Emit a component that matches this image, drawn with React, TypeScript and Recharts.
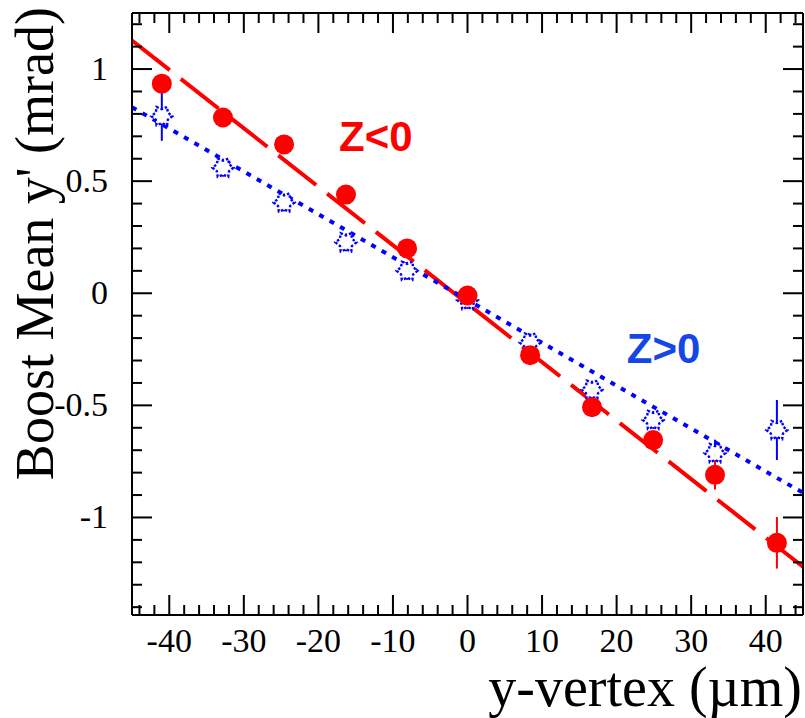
import React from "react";
import {
  ComposedChart,
  Line,
  Scatter,
  ErrorBar,
  XAxis,
  YAxis,
  ReferenceDot
} from "recharts";

// Measured points: y-vertex bin centres (µm)
const vertexX = [-41, -32.8, -24.6, -16.3, -8.1, 0, 8.4, 16.7, 24.9, 33.2, 41.5];

// Z<0 sample: boost mean y' (mrad) and errors
const zNegMean = [0.935, 0.784, 0.664, 0.44, 0.2, -0.01, -0.276, -0.508, -0.655, -0.81, -1.113];
const zNegErr = [0.04, 0.03, 0.03, 0.03, 0.03, 0.03, 0.03, 0.03, 0.04, 0.065, 0.115];

// Z>0 sample
const zPosMean = [0.79, 0.56, 0.405, 0.227, 0.1, -0.03, -0.22, -0.43, -0.565, -0.713, -0.61];
const zPosErr = [0.11, 0.04, 0.04, 0.04, 0.04, 0.04, 0.04, 0.04, 0.04, 0.06, 0.134];

// Straight-line fits, evaluated at the plot edges
const fitX = [-45, 45];
const zNegFit = [1.127, -1.22];
const zPosFit = [0.83, -0.89];

// Axis ticks (major + minor)
const xTicks = [-44, -42, -40, -38, -36, -34, -32, -30, -28, -26, -24, -22, -20, -18, -16, -14, -12, -10, -8, -6, -4, -2,
  0, 2, 4, 6, 8, 10, 12, 14, 16, 18, 20, 22, 24, 26, 28, 30, 32, 34, 36, 38, 40, 42, 44];
const yTicks = [-1.4, -1.3, -1.2, -1.1, -1, -0.9, -0.8, -0.7, -0.6, -0.5, -0.4, -0.3, -0.2, -0.1,
  0, 0.1, 0.2, 0.3, 0.4, 0.5, 0.6, 0.7, 0.8, 0.9, 1, 1.1, 1.2];

const RED = "#ff0000";
const BLUE = "#0000ff";
const SERIF = "'Liberation Serif', 'Times New Roman', serif";
const SANS = "'Liberation Sans', Arial, sans-serif";

const zNegData = vertexX.map((x, i) => ({ x, y: zNegMean[i], err: zNegErr[i] }));
const zPosData = vertexX.map((x, i) => ({ x, y: zPosMean[i], err: zPosErr[i] }));
const zNegFitData = fitX.map((x, i) => ({ x, y: zNegFit[i] }));
const zPosFitData = fitX.map((x, i) => ({ x, y: zPosFit[i] }));

const isMajorX = (v: number) => v % 10 === 0;
const isMajorY = (v: number) => Math.abs(v * 2 - Math.round(v * 2)) < 1e-6;

// inward ticks, like a ROOT frame
const BottomTick = (props: any) => {
  const { x, y, payload } = props;
  const major = isMajorX(payload.value);
  return (
    <g>
      <line x1={x} y1={y} x2={x} y2={y - (major ? 20 : 10)} stroke="#000" strokeWidth={2} />
      {major && (
        <text x={x} y={y + 37} textAnchor="middle" fontFamily={SERIF} fontSize={34} fill="#000">
          {payload.value}
        </text>
      )}
    </g>
  );
};

const TopTick = (props: any) => {
  const { x, y, payload } = props;
  const major = isMajorX(payload.value);
  return <line x1={x} y1={y} x2={x} y2={y + (major ? 20 : 10)} stroke="#000" strokeWidth={2} />;
};

const LeftTick = (props: any) => {
  const { x, y, payload } = props;
  const major = isMajorY(payload.value);
  return (
    <g>
      <line x1={x} y1={y} x2={x + (major ? 20 : 10)} y2={y} stroke="#000" strokeWidth={2} />
      {major && (
        <text x={x - 24} y={y + 11} textAnchor="end" fontFamily={SERIF} fontSize={34} fill="#000">
          {payload.value}
        </text>
      )}
    </g>
  );
};

const RightTick = (props: any) => {
  const { x, y, payload } = props;
  const major = isMajorY(payload.value);
  return <line x1={x} y1={y} x2={x - (major ? 20 : 10)} y2={y} stroke="#000" strokeWidth={2} />;
};

const FullCircle = (props: any) => {
  const { cx, cy } = props;
  if (cx == null || cy == null) return null;
  return <circle cx={cx} cy={cy} r={10} fill={RED} />;
};

// open star marker, drawn with a broken outline
const OpenStar = (props: any) => {
  const { cx, cy } = props;
  if (cx == null || cy == null) return null;
  const pts: string[] = [];
  for (let k = 0; k < 12; k++) {
    const a = (Math.PI / 6) * k;
    const r = k % 2 === 0 ? 10.5 : 7;
    pts.push(`${cx + r * Math.cos(a)},${cy + r * Math.sin(a)}`);
  }
  return (
    <polygon points={pts.join(" ")} fill="#fff" stroke={BLUE} strokeWidth={2.4} strokeDasharray="2.5 2" />
  );
};

const xTitle = (props: any) => {
  const { viewBox } = props;
  return (
    <text x={802} y={viewBox.y + 91} textAnchor="end" fontFamily={SERIF} fontSize={56} fill="#000">
      y-vertex (µm)
    </text>
  );
};

const yTitle = (props: any) => {
  const { viewBox } = props;
  const tx = 53;
  const ty = viewBox.y - 6;
  return (
    <text x={tx} y={ty} transform={`rotate(-90, ${tx}, ${ty})`} textAnchor="end" fontFamily={SERIF} fontSize={54} fill="#000">
      Boost Mean y' (mrad)
    </text>
  );
};

const zLabel = (text: string, color: string) => (props: any) => {
  const { viewBox } = props;
  return (
    <text x={viewBox.x} y={viewBox.y + 15} textAnchor="middle" fontFamily={SANS} fontWeight="bold" fontSize={42} fill={color}>
      {text}
    </text>
  );
};

export default function App() {
  return (
    <div style={{ position: "fixed", left: 0, top: 0, width: 805, height: 718, background: "#fff" }}>
      <ComposedChart width={805} height={718} margin={{ top: 12, right: 1, bottom: 102, left: 131 }}>
        <XAxis
          xAxisId="b"
          type="number"
          dataKey="x"
          domain={[-45, 45]}
          allowDataOverflow
          ticks={xTicks}
          interval={0}
          height={1}
          tickSize={0}
          tickMargin={0}
          tickLine={false}
          tick={<BottomTick />}
          axisLine={{ stroke: "#000", strokeWidth: 2 }}
          label={{ content: xTitle }}
        />
        <XAxis
          xAxisId="t"
          orientation="top"
          type="number"
          dataKey="x"
          domain={[-45, 45]}
          allowDataOverflow
          ticks={xTicks}
          interval={0}
          height={1}
          tickSize={0}
          tickMargin={0}
          tickLine={false}
          tick={<TopTick />}
          axisLine={{ stroke: "#000", strokeWidth: 2 }}
        />
        <YAxis
          yAxisId="l"
          type="number"
          dataKey="y"
          domain={[-1.435, 1.25]}
          allowDataOverflow
          ticks={yTicks}
          interval={0}
          width={1}
          tickSize={0}
          tickMargin={0}
          tickLine={false}
          tick={<LeftTick />}
          axisLine={{ stroke: "#000", strokeWidth: 2 }}
          label={{ content: yTitle }}
        />
        <YAxis
          yAxisId="r"
          orientation="right"
          type="number"
          dataKey="y"
          domain={[-1.435, 1.25]}
          allowDataOverflow
          ticks={yTicks}
          interval={0}
          width={1}
          tickSize={0}
          tickMargin={0}
          tickLine={false}
          tick={<RightTick />}
          axisLine={{ stroke: "#000", strokeWidth: 2 }}
        />

        <Scatter xAxisId="b" yAxisId="l" data={zPosData} dataKey="y" shape={<OpenStar />} isAnimationActive={false}>
          <ErrorBar dataKey="err" direction="y" width={0} stroke={BLUE} strokeWidth={2} isAnimationActive={false} />
        </Scatter>
        <Scatter xAxisId="b" yAxisId="l" data={zNegData} dataKey="y" shape={<FullCircle />} isAnimationActive={false}>
          <ErrorBar dataKey="err" direction="y" width={0} stroke={RED} strokeWidth={2} isAnimationActive={false} />
        </Scatter>

        <Line
          xAxisId="b"
          yAxisId="l"
          data={zNegFitData}
          dataKey="y"
          type="linear"
          stroke={RED}
          strokeWidth={4}
          strokeDasharray="48 14"
          dot={false}
          activeDot={false}
          isAnimationActive={false}
        />
        <Line
          xAxisId="b"
          yAxisId="l"
          data={zPosFitData}
          dataKey="y"
          type="linear"
          stroke={BLUE}
          strokeWidth={4}
          strokeDasharray="5 7"
          dot={false}
          activeDot={false}
          isAnimationActive={false}
        />

        <ReferenceDot xAxisId="b" yAxisId="l" x={-12.3} y={0.7} r={0} fill="none" stroke="none" label={{ content: zLabel("Z<0", RED) }} />
        <ReferenceDot xAxisId="b" yAxisId="l" x={26.3} y={-0.245} r={0} fill="none" stroke="none" label={{ content: zLabel("Z>0", "#1547e6") }} />
      </ComposedChart>
    </div>
  );
}
